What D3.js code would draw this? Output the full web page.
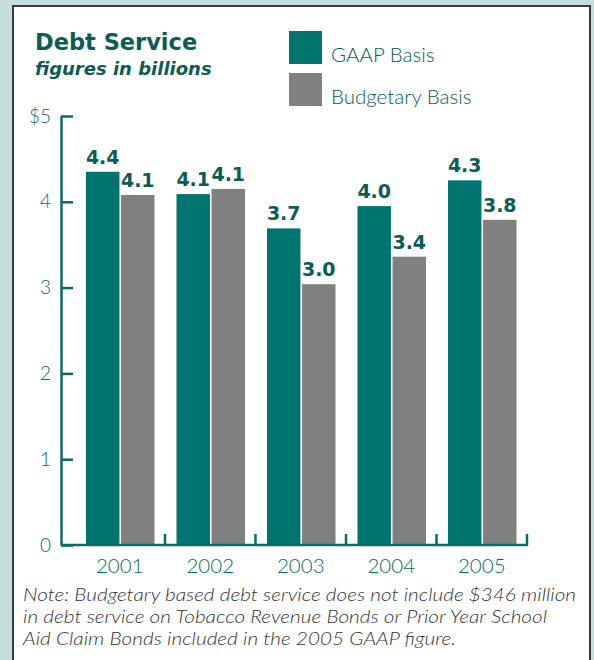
<!DOCTYPE html>
<html>
<head>
<meta charset="utf-8">
<script src="https://cdn.jsdelivr.net/npm/d3@7"></script>
<style>
  html, body { margin: 0; padding: 0; background: #c6dddd; }
  #chart { width: 594px; height: 660px; }
</style>
</head>
<body>
<div id="chart"></div>
<script>
// Data
const years = ['2001', '2002', '2003', '2004', '2005'];
const gaapValues = [4.35, 4.09, 3.69, 3.95, 4.25];
const budgetaryValues = [4.08, 4.15, 3.04, 3.36, 3.79];
const gaapLabels = ['4.4', '4.1', '3.7', '4.0', '4.3'];
const budgetaryLabels = ['4.1', '4.1', '3.0', '3.4', '3.8'];
const seriesNames = ['GAAP Basis', 'Budgetary Basis'];
const yTicks = [0, 1, 2, 3, 4, 5];
const noteLines = [
    'Note: Budgetary based debt service does not include $346 million',
    'in debt service on Tobacco Revenue Bonds or Prior Year School',
    'Aid Claim Bonds included in the 2005 GAAP figure.'
];
// measured line widths of the note in the original
const noteWidths = [553, 524, 433];

const colors = { gaap: '#007570', budget: '#808080', text: '#0b5c55', axis: '#0c6a64' };
const font = 'Lato, "Open Sans", sans-serif';
const boldFont = '"DejaVu Sans", sans-serif';

const svg = d3.select('#chart')
    .append('svg')
    .attr('width', 594)
    .attr('height', 660);

// Panel
svg.append('rect')
    .attr('x', 13).attr('y', 6)
    .attr('width', 577).attr('height', 670)
    .attr('fill', 'white')
    .attr('stroke', '#3a3a3a')
    .attr('stroke-width', 2);

// Scales
const x = d3.scaleBand().domain(years).range([74.5, 527]);
const inner = d3.scaleBand().domain(['gaap', 'budget'])
    .range([11.5, x.bandwidth() - 10.5])
    .paddingInner(0.045);
const y = d3.scaleLinear().domain([0, 5]).range([545, 116]);

// Title
svg.append('text')
    .attr('x', 35).attr('y', 50)
    .attr('fill', colors.text)
    .style('font-family', boldFont)
    .style('font-weight', 'bold')
    .style('font-size', '22.5px')
    .text('Debt Service');
svg.append('text')
    .attr('x', 35).attr('y', 75)
    .attr('fill', colors.text)
    .style('font-family', boldFont)
    .style('font-weight', 'bold')
    .style('font-style', 'italic')
    .style('font-size', '18px')
    .text('figures in billions');

// Legend
const legend = svg.selectAll('.legend')
    .data(seriesNames)
    .join('g')
    .attr('class', 'legend')
    .attr('transform', (d, i) => `translate(289,${31 + i * 42})`);
legend.append('rect')
    .attr('width', 33).attr('height', 33)
    .attr('fill', (d, i) => i === 0 ? colors.gaap : colors.budget);
legend.append('text')
    .attr('x', 42).attr('y', 31)
    .attr('fill', colors.text)
    .style('font-family', font)
    .style('font-weight', 300)
    .style('font-size', '20.5px')
    .text(d => d);

// Y axis
const yAxis = svg.append('g')
    .attr('transform', 'translate(61,0)')
    .call(d3.axisLeft(y)
        .tickValues(yTicks)
        .tickFormat(d => d === 5 ? '$5' : d)
        .tickSize(-12)
        .tickSizeOuter(0)
        .tickPadding(10));
yAxis.select('.domain').attr('stroke', colors.axis).attr('stroke-width', 2.5);
yAxis.selectAll('.tick line').attr('stroke', colors.axis).attr('stroke-width', 2.5);
yAxis.selectAll('.tick text')
    .attr('fill', colors.axis)
    .style('font-family', font)
    .style('font-weight', 300)
    .style('font-size', '19px');

// Bars
const groups = svg.selectAll('.year')
    .data(years)
    .join('g')
    .attr('class', 'year')
    .attr('transform', d => `translate(${x(d)},0)`);

const rows = years.map((yr, i) => [
    { key: 'gaap', value: gaapValues[i], label: gaapLabels[i] },
    { key: 'budget', value: budgetaryValues[i], label: budgetaryLabels[i] }
]);

groups.selectAll('rect')
    .data((d, i) => rows[i])
    .join('rect')
    .attr('x', d => inner(d.key))
    .attr('width', inner.bandwidth())
    .attr('y', d => y(d.value))
    .attr('height', d => y(0) - y(d.value))
    .attr('fill', d => d.key === 'gaap' ? colors.gaap : colors.budget);

groups.selectAll('.value')
    .data((d, i) => rows[i])
    .join('text')
    .attr('class', 'value')
    .attr('x', d => inner(d.key) + inner.bandwidth() / 2)
    .attr('y', d => y(d.value) - 8)
    .attr('text-anchor', 'middle')
    .attr('fill', colors.text)
    .style('font-family', boldFont)
    .style('font-weight', 'bold')
    .style('font-size', '19px')
    .text(d => d.label);

// X axis
const xAxis = svg.append('g')
    .attr('transform', `translate(0,${y(0)})`)
    .call(d3.axisBottom(x).tickSize(0).tickPadding(13));
xAxis.select('.domain').remove();
xAxis.selectAll('.tick text')
    .attr('fill', colors.axis)
    .style('font-family', font)
    .style('font-weight', 300)
    .style('font-size', '20.5px');
xAxis.append('line')
    .attr('x1', 61).attr('x2', 528)
    .attr('stroke', colors.axis).attr('stroke-width', 2.5);
xAxis.selectAll('.sep')
    .data(years)
    .join('line')
    .attr('class', 'sep')
    .attr('x1', d => x(d) + x.bandwidth())
    .attr('x2', d => x(d) + x.bandwidth())
    .attr('y1', 0).attr('y2', -11)
    .attr('stroke', colors.axis).attr('stroke-width', 2.5);

// Note
svg.selectAll('.note')
    .data(noteLines)
    .join('text')
    .attr('class', 'note')
    .attr('x', 23)
    .attr('y', (d, i) => 601 + i * 22)
    .attr('textLength', (d, i) => noteWidths[i])
    .attr('lengthAdjust', 'spacingAndGlyphs')
    .attr('fill', '#333')
    .style('font-family', font)
    .style('font-style', 'italic')
    .style('font-weight', 300)
    .style('font-size', '18px')
    .text(d => d);
</script>
</body>
</html>
